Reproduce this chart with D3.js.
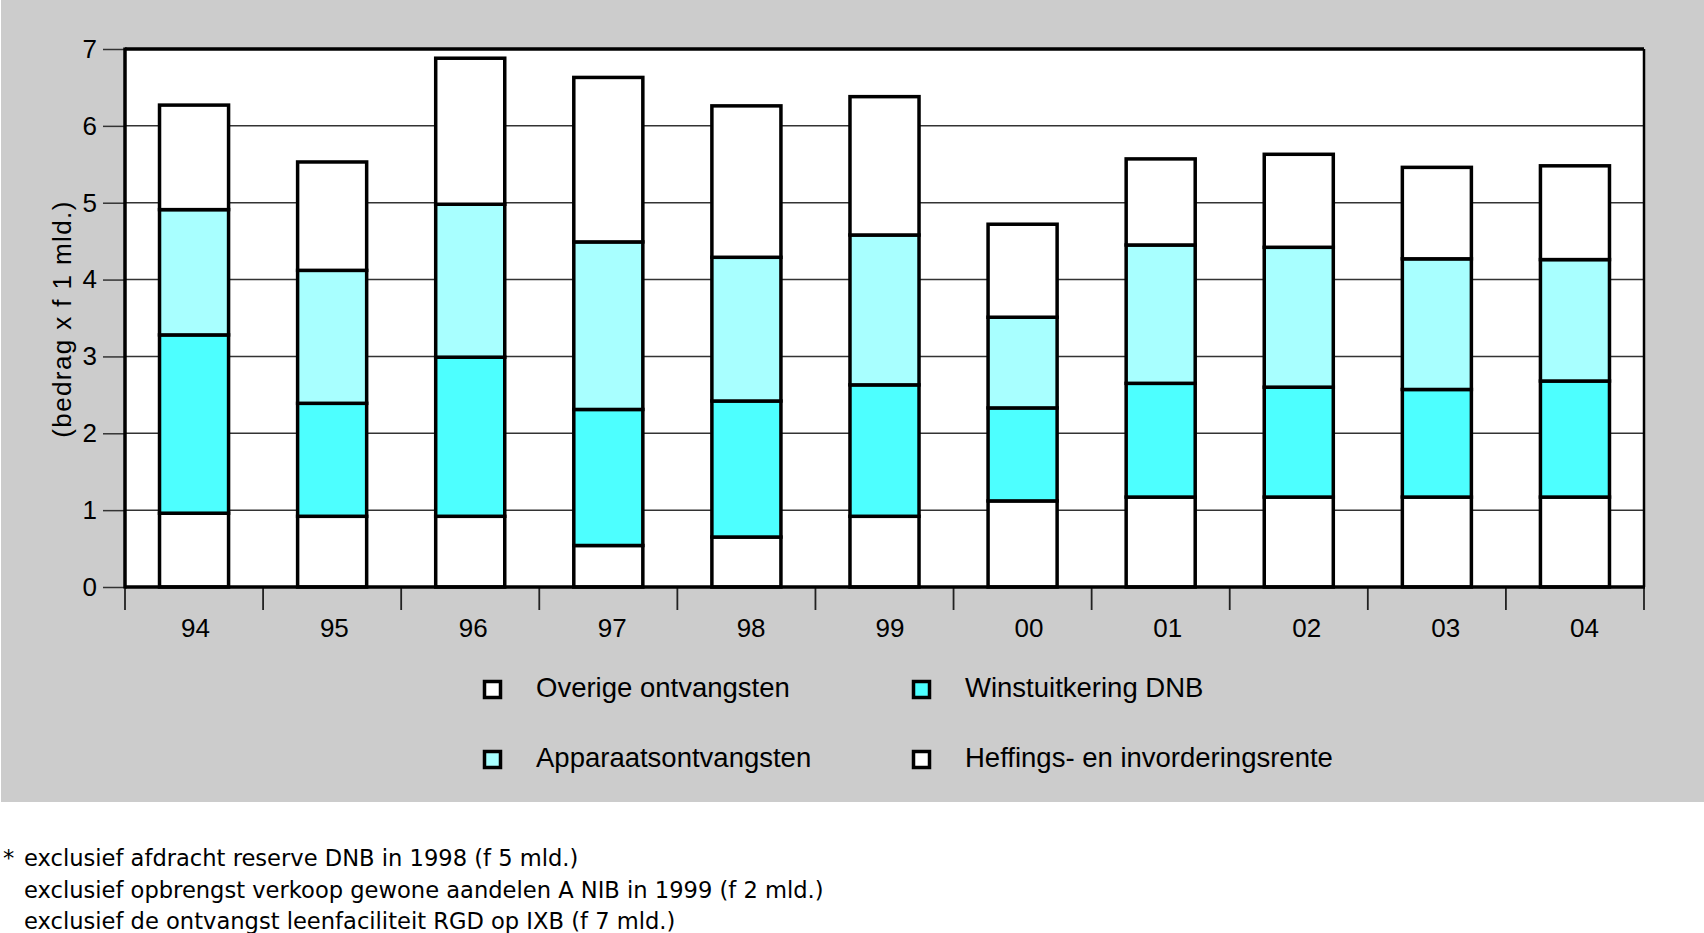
<!DOCTYPE html>
<html>
<head>
<meta charset="utf-8">
<script src="https://cdn.jsdelivr.net/npm/d3@7"></script>
<style>
  html, body { margin: 0; padding: 0; background: #ffffff; }
  svg { display: block; }
  text { font-family: "Liberation Sans", Arial, Helvetica, sans-serif; fill: #000; }
  text.foot { font-family: "DejaVu Sans", Verdana, sans-serif; }
</style>
</head>
<body>
<svg id="chart" width="1704" height="933"></svg>
<script>
// ---- data ----
const years = ["94", "95", "96", "97", "98", "99", "00", "01", "02", "03", "04"];
// stacked bottom -> top
const heffingsRente   = [0.96, 0.92, 0.92, 0.54, 0.65, 0.92, 1.12, 1.17, 1.17, 1.17, 1.17];
const winstDNB        = [2.32, 1.47, 2.07, 1.77, 1.77, 1.71, 1.21, 1.48, 1.43, 1.40, 1.51];
const apparaats       = [1.63, 1.73, 1.99, 2.18, 1.87, 1.95, 1.18, 1.80, 1.82, 1.70, 1.58];
const overige         = [1.36, 1.41, 1.90, 2.14, 1.97, 1.80, 1.21, 1.12, 1.21, 1.19, 1.22];
const seriesKeys   = ["heffings", "winst", "apparaats", "overige"];
const seriesNames  = ["Heffings- en invorderingsrente", "Winstuitkering DNB", "Apparaatsontvangsten", "Overige ontvangsten"];
const seriesColors = ["#ffffff", "#4dffff", "#a8ffff", "#ffffff"];
const yTicks = [0, 1, 2, 3, 4, 5, 6, 7];
const yTitle = "(bedrag x f 1 mld.)";
const footnotes = [
  "exclusief afdracht reserve DNB in 1998 (f 5 mld.)",
  "exclusief opbrengst verkoop gewone aandelen A NIB in 1999 (f 2 mld.)",
  "exclusief de ontvangst leenfaciliteit RGD op IXB (f 7 mld.)"
];

// ---- build table ----
const table = years.map((y, i) => ({
  year: y,
  heffings: heffingsRente[i],
  winst: winstDNB[i],
  apparaats: apparaats[i],
  overige: overige[i]
}));
const stacked = d3.stack().keys(seriesKeys)(table);

// ---- layout ----
const svg = d3.select("#chart");
const plot = { left: 125, right: 1644, top: 49, bottom: 587 };

svg.append("rect").attr("x", 1).attr("y", 0).attr("width", 1703).attr("height", 802).attr("fill", "#cccccc");

const xEdge = d3.scaleBand().domain(years).range([plot.left, plot.right]).padding(0);
const xLabel = d3.scaleBand().domain(years).range([plot.left + 1, plot.right + 10]).padding(0);
const y = d3.scaleLinear().domain([0, 7]).range([plot.bottom, plot.top]);

// plot background
svg.append("rect")
  .attr("x", plot.left).attr("y", plot.top)
  .attr("width", plot.right - plot.left).attr("height", plot.bottom - plot.top)
  .attr("fill", "#ffffff");

// gridlines
svg.append("g").selectAll("line").data(yTicks.filter(t => t > 0 && t < 7)).join("line")
  .attr("x1", plot.left).attr("x2", plot.right)
  .attr("y1", d => y(d)).attr("y2", d => y(d))
  .attr("stroke", "#333").attr("stroke-width", 1.5);

// y axis
const yAxis = d3.axisLeft(y).tickValues(yTicks).tickSize(22).tickPadding(6).tickFormat(d3.format("d"));
const gy = svg.append("g").attr("transform", `translate(${plot.left},0)`).call(yAxis);
gy.select(".domain").remove();
gy.selectAll(".tick line").attr("stroke", "#333").attr("stroke-width", 1.5);
gy.selectAll(".tick text").attr("font-size", 26).attr("fill", "#000");

// x axis: ticks at band edges
const edges = years.map(d => xEdge(d)).concat([plot.right]);
svg.append("g").selectAll("line").data(edges).join("line")
  .attr("x1", d => d).attr("x2", d => d)
  .attr("y1", plot.bottom).attr("y2", plot.bottom + 23)
  .attr("stroke", "#222").attr("stroke-width", 1.8);
svg.append("g").selectAll("text").data(years).join("text")
  .attr("x", d => xLabel(d) + xLabel.bandwidth() / 2)
  .attr("y", 637)
  .attr("text-anchor", "middle")
  .attr("font-size", 26)
  .text(d => d);

// bars
svg.append("g").selectAll("g").data(stacked).join("g")
  .attr("fill", (d, i) => seriesColors[i])
  .selectAll("rect").data(d => d).join("rect")
  .attr("x", d => xEdge(d.data.year) + xEdge.bandwidth() * 0.25)
  .attr("width", xEdge.bandwidth() * 0.5)
  .attr("y", d => y(d[1]))
  .attr("height", d => y(d[0]) - y(d[1]))
  .attr("stroke", "#000").attr("stroke-width", 3.5);

// plot frame
svg.append("line").attr("x1", plot.left).attr("x2", plot.right).attr("y1", plot.top).attr("y2", plot.top).attr("stroke", "#000").attr("stroke-width", 3.5);
svg.append("line").attr("x1", plot.right).attr("x2", plot.right).attr("y1", plot.top).attr("y2", plot.bottom).attr("stroke", "#000").attr("stroke-width", 2.5);
svg.append("line").attr("x1", plot.left).attr("x2", plot.left).attr("y1", plot.top - 1.5).attr("y2", plot.bottom + 1.5).attr("stroke", "#000").attr("stroke-width", 3.5);
svg.append("line").attr("x1", plot.left).attr("x2", plot.right + 1).attr("y1", plot.bottom).attr("y2", plot.bottom).attr("stroke", "#000").attr("stroke-width", 3.5);

// y title
svg.append("text")
  .attr("transform", "translate(71,319) rotate(-90)")
  .attr("text-anchor", "middle")
  .attr("font-size", 26)
  .attr("letter-spacing", 1.4)
  .text(yTitle);

// legend (column-major: top of stack first)
const legendItems = [
  { name: seriesNames[3], color: seriesColors[3], col: 0, row: 0 },
  { name: seriesNames[2], color: seriesColors[2], col: 0, row: 1 },
  { name: seriesNames[1], color: seriesColors[1], col: 1, row: 0 },
  { name: seriesNames[0], color: seriesColors[0], col: 1, row: 1 }
];
const colX = [483, 912];
const rowY = [680, 750];
const lg = svg.append("g").selectAll("g").data(legendItems).join("g")
  .attr("transform", d => `translate(${colX[d.col]},${rowY[d.row]})`);
lg.append("rect").attr("x", 1.5).attr("y", 1.5).attr("width", 16).attr("height", 16)
  .attr("fill", d => d.color).attr("stroke", "#000").attr("stroke-width", 3.5);
lg.append("text").attr("x", 53).attr("y", 17).attr("font-size", 27.5).text(d => d.name);

// footnotes
svg.append("text").attr("class", "foot").attr("x", 3).attr("y", 866).attr("font-size", 22.5).text("*");
svg.append("g").selectAll("text").data(footnotes).join("text")
  .attr("class", "foot")
  .attr("x", 24)
  .attr("y", (d, i) => 866 + i * 31.5)
  .attr("font-size", 22.6)
  .text(d => d);
</script>
</body>
</html>
